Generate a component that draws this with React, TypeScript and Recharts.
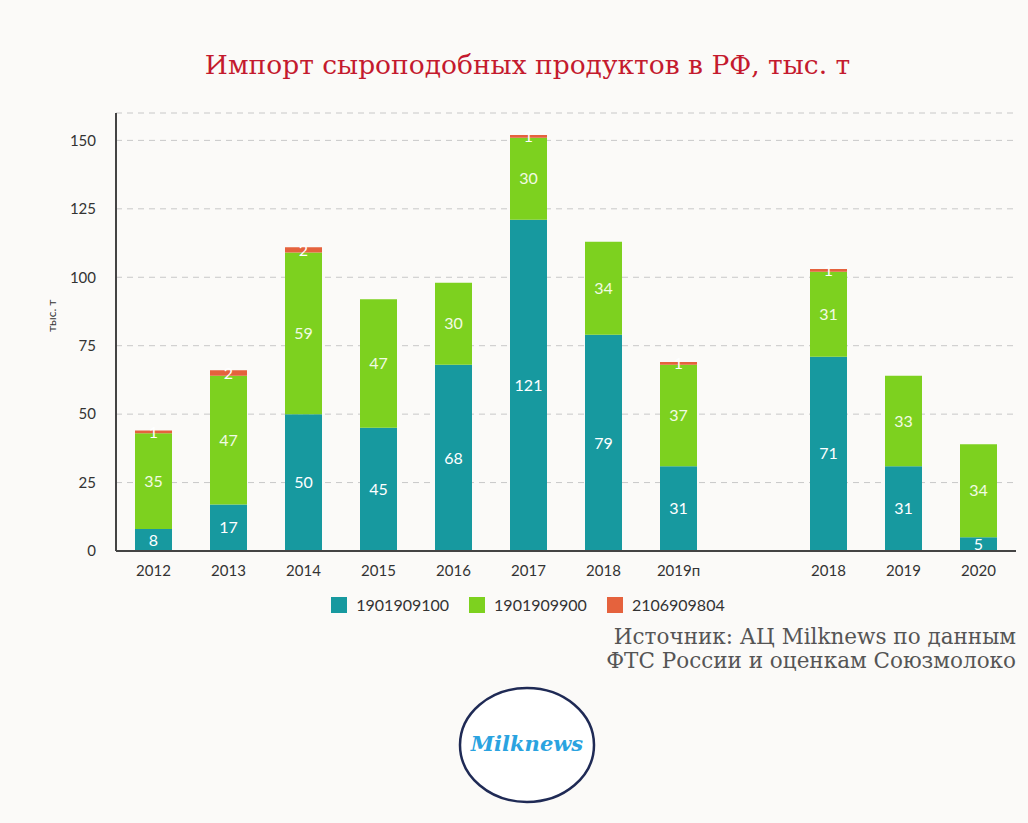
import React from "react";
import { BarChart, Bar, XAxis, YAxis, CartesianGrid, LabelList } from "recharts";

const years = ["2012", "2013", "2014", "2015", "2016", "2017", "2018", "2019п", "", "2018", "2019", "2020"];
const code1901909100 = [8, 17, 50, 45, 68, 121, 79, 31, null, 71, 31, 5];
const code1901909900 = [35, 47, 59, 47, 30, 30, 34, 37, null, 31, 33, 34];
const code2106909804 = [1, 2, 2, null, null, 1, null, 1, null, 1, null, null];
const yTicks = [0, 25, 50, 75, 100, 125, 150];

const series = [
    { key: "a", name: "1901909100", color: "#17999f", values: code1901909100, labelColor: "#ffffff" },
    { key: "b", name: "1901909900", color: "#7dd11f", values: code1901909900, labelColor: "#f2fbe4" },
    { key: "c", name: "2106909804", color: "#e5623d", values: code2106909804, labelColor: "#ffffff" }
];

const data = years.map((year, i) => {
    const row: { [k: string]: any } = { year };
    series.forEach(s => { row[s.key] = s.values[i]; });
    return row;
});

const sans = "Lato, 'Open Sans', sans-serif";
const serif = "'DejaVu Serif', 'Liberation Serif', serif";

export default function App() {
    return (
        <div style={{ position: "absolute", left: 0, top: 0, width: 1028, height: 823, background: "#fbfaf8", overflow: "hidden" }}>
            <div style={{ position: "absolute", top: 49, left: 0, width: 1055, textAlign: "center", color: "#c41a2e", fontFamily: serif, fontSize: 26.5 }}>
                Импорт сыроподобных продуктов в РФ, тыс. т
            </div>
            <div style={{ position: "absolute", left: 0, top: 0 }}>
                <BarChart
                    width={1028}
                    height={823}
                    data={data}
                    barSize={37}
                    margin={{ top: 113, right: 12, left: 56, bottom: 242 }}
                >
                    <CartesianGrid vertical={false} stroke="#c8c8c8" strokeDasharray="6 5" />
                    <XAxis
                        dataKey="year"
                        tickLine={false}
                        axisLine={{ stroke: "#444", strokeWidth: 2 }}
                        tick={{ fill: "#333", fontSize: 15, fontFamily: sans }}
                        tickMargin={8}
                        interval={0}
                    />
                    <YAxis
                        width={60}
                        domain={[0, 160]}
                        ticks={yTicks}
                        tickLine={false}
                        axisLine={{ stroke: "#444", strokeWidth: 2 }}
                        tick={{ fill: "#333", fontSize: 15, fontFamily: sans }}
                        tickMargin={14}
                        label={{ value: "тыс. т", angle: -90, position: "insideLeft", offset: -4, fill: "#333", fontSize: 12, fontFamily: sans }}
                    />
                    {series.map(s => (
                        <Bar key={s.key} dataKey={s.key} name={s.name} stackId="x" fill={s.color} isAnimationActive={false}>
                            <LabelList dataKey={s.key} position="center" fill={s.labelColor} fontSize={16} fontFamily={sans} />
                        </Bar>
                    ))}
                </BarChart>
            </div>
            <div style={{ position: "absolute", top: 595, left: 0, width: 1056, display: "flex", justifyContent: "center", gap: 20, fontFamily: sans, fontSize: 16, color: "#333" }}>
                {series.map(s => (
                    <div key={s.key} style={{ display: "flex", alignItems: "center" }}>
                        <span style={{ display: "inline-block", width: 16, height: 16, background: s.color, marginRight: 9 }} />
                        {s.name}
                    </div>
                ))}
            </div>
            <div style={{ position: "absolute", top: 625, right: 12, textAlign: "right", fontFamily: serif, fontSize: 21.5, lineHeight: "24px", color: "#555" }}>
                Источник: АЦ Milknews по данным<br />ФТС России и оценкам Союзмолоко
            </div>
            <svg style={{ position: "absolute", left: 455, top: 685 }} width={145} height={120}>
                <ellipse cx={72} cy={60} rx={67} ry={57} fill="#fff" stroke="#1f2a55" strokeWidth={2.5} />
                <text x={72} y={66} textAnchor="middle" fill="#2aa3e0" fontSize={21} fontStyle="italic" fontWeight="bold" fontFamily={serif}>Milknews</text>
            </svg>
        </div>
    );
}
